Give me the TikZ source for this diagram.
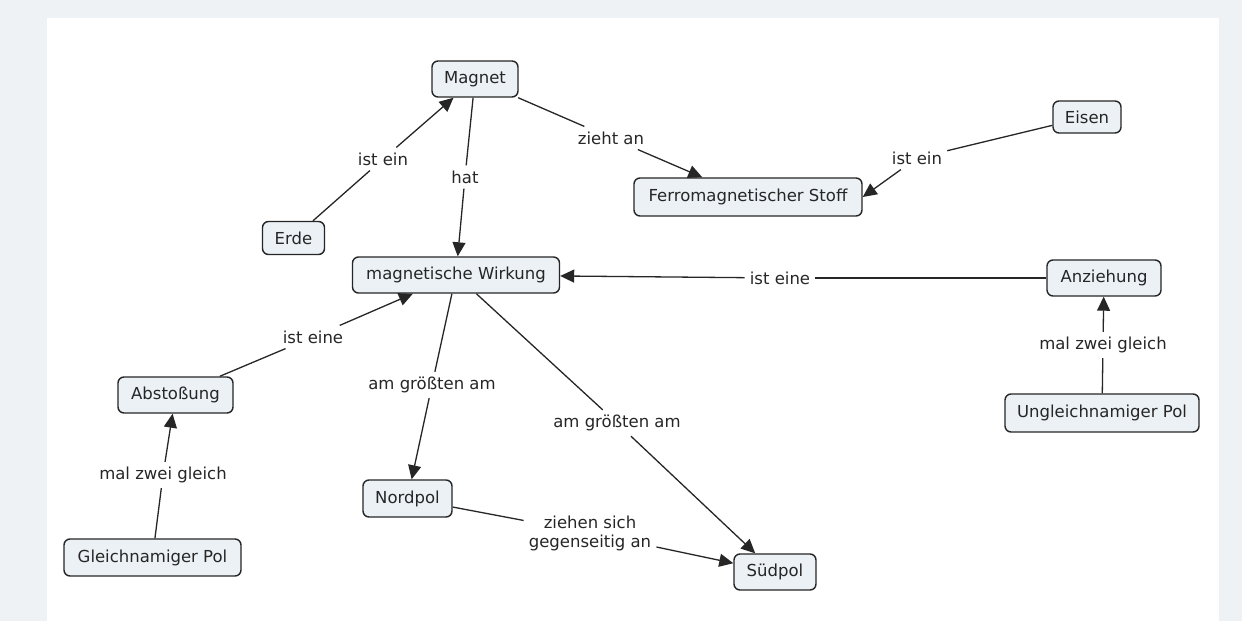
\documentclass[tikz,border=0pt]{standalone}
\usepackage{fontspec}
\setmainfont{DejaVu Sans}
\usetikzlibrary{arrows.meta}
\definecolor{bg}{HTML}{EEF2F5}
\definecolor{nodefill}{HTML}{EBF1F5}
\definecolor{ink}{HTML}{262626}
\definecolor{txt}{HTML}{262626}
\begin{document}
\begin{tikzpicture}[x=1pt,y=-1pt,
  concept/.style={draw=ink, line width=1.4pt, fill=nodefill, rounded corners=6pt,
    minimum height=36pt, inner xsep=2pt, inner ysep=2pt, text=txt,
    font=\fontsize{16.5}{19}\selectfont},
  linklabel/.style={text=txt, inner sep=5pt, align=center,
    font=\fontsize{16.5}{19}\selectfont},
  link/.style={draw=ink, line width=1.3pt},
  arr/.style={link, -{Triangle[length=14pt,width=13pt]}}]
\useasboundingbox (0,0) rectangle (1242,621);
\fill[bg] (0,0) rectangle (1242,621);
\fill[white] (47,18) rectangle (1219,621);

% concepts
\node[concept, minimum width=86pt] (magnet) at (475,79) {Magnet};
\node[concept, minimum width=62pt, minimum height=33pt] (erde) at (293.5,238) {Erde};
\node[concept, minimum width=207pt] (mw) at (456,275) {magnetische Wirkung};
\node[concept, minimum width=228pt, minimum height=38pt] (ferro) at (748,197) {Ferromagnetischer Stoff};
\node[concept, minimum width=68pt, minimum height=32pt] (eisen) at (1087,117) {Eisen};
\node[concept, minimum width=114pt] (anz) at (1104,278) {Anziehung};
\node[concept, minimum width=194pt, minimum height=38pt] (ungl) at (1102,413) {Ungleichnamiger Pol};
\node[concept, minimum width=115pt] (abst) at (175.5,395) {Abstoßung};
\node[concept, minimum width=177pt, minimum height=37pt] (gleich) at (152.5,557.5) {Gleichnamiger Pol};
\node[concept, minimum width=89pt, minimum height=37pt] (nord) at (407.5,498.5) {Nordpol};
\node[concept, minimum width=82pt] (sued) at (775,572) {Südpol};

% link labels
\node[linklabel] (l1) at (383,159) {ist ein};
\node[linklabel] (l2) at (465,177) {hat};
\node[linklabel] (l3) at (611,138) {zieht an};
\node[linklabel] (l4) at (917,158) {ist ein};
\node[linklabel] (l5) at (780,278) {ist eine};
\node[linklabel] (l6) at (1103,345) {mal zwei gleich};
\node[linklabel] (l7) at (313,337) {ist eine};
\node[linklabel] (l8) at (163,475) {mal zwei gleich};
\node[linklabel] (l9) at (432,385) {am größten am};
\node[linklabel] (l10) at (617,423) {am größten am};
\node[linklabel] (l11) at (590,533) {ziehen sich\\gegenseitig an};

% connectors
\draw[link] (erde) -- (l1);   \draw[arr] (l1) -- (magnet);
\draw[link] (magnet) -- (l2); \draw[arr] (l2) -- (mw);
\draw[link] (magnet) -- (l3); \draw[arr] (l3) -- (ferro);
\draw[link] (eisen) -- (l4);  \draw[arr] (l4) -- (ferro.east);
\draw[link] (anz) -- (l5);    \draw[arr] (l5) -- (mw);
\draw[link] (ungl) -- (l6);   \draw[arr] (l6) -- (anz);
\draw[link] (abst) -- (l7);   \draw[arr] (l7) -- (mw);
\draw[link] (gleich) -- (l8); \draw[arr] (l8) -- (abst);
\draw[link] (mw) -- (l9);     \draw[arr] (l9) -- (nord);
\draw[link] (mw) -- (l10);    \draw[arr] (l10) -- (sued);
\draw[link] (nord) -- (l11);  \draw[arr] (l11) -- (sued);
\end{tikzpicture}
\end{document}
